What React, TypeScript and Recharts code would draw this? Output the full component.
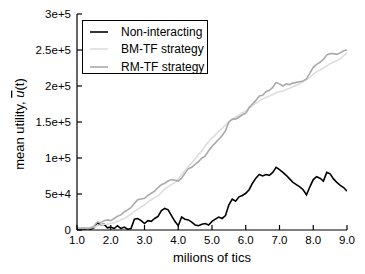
import React from 'react';
import { LineChart, Line, XAxis, YAxis, Legend } from 'recharts';

// millions of tics
const tics = [
  1.0, 1.1, 1.2, 1.3, 1.4, 1.5, 1.6, 1.7, 1.8, 1.9,
  2.0, 2.1, 2.2, 2.3, 2.4, 2.5, 2.6, 2.7, 2.8, 2.9,
  3.0, 3.1, 3.2, 3.3, 3.4, 3.5, 3.6, 3.7, 3.8, 3.9,
  4.0, 4.1, 4.2, 4.3, 4.4, 4.5, 4.6, 4.7, 4.8, 4.9,
  5.0, 5.1, 5.2, 5.3, 5.4, 5.5, 5.6, 5.7, 5.8, 5.9,
  6.0, 6.1, 6.2, 6.3, 6.4, 6.5, 6.6, 6.7, 6.8, 6.9,
  7.0, 7.1, 7.2, 7.3, 7.4, 7.5, 7.6, 7.7, 7.8, 7.9,
  8.0, 8.1, 8.2, 8.3, 8.4, 8.5, 8.6, 8.7, 8.8, 8.9,
  9.0,
];

// mean utility, in thousands
const nonInteracting = [
  1, 2, 1, 2, 1, 3, 10, 7, 8, 3,
  4, 2, 6, 2, 4, 1, 2, 15, 16, 13,
  9, 13, 12, 16, 19, 27, 30, 28, 20, 12,
  6, 18, 15, 14, 11, 7, 6, 8, 9, 7,
  12, 15, 18, 16, 20, 35, 43, 40, 46, 48,
  51, 56, 65, 72, 77, 75, 77, 76, 80, 87,
  84, 80, 76, 71, 66, 63, 60, 56, 49, 60,
  70, 74, 72, 68, 80, 78, 71, 66, 62, 59,
  54,
];

const bmTf = [
  2, 2, 2, 3, 3, 4, 6, 7, 8, 8,
  9, 10, 12, 14, 16, 19, 22, 26, 29, 32,
  35, 39, 42, 45, 47, 52, 57, 60, 63, 66,
  71, 77, 83, 88, 93, 99, 105, 110, 117, 123,
  128, 132, 137, 141, 146, 150, 153, 157, 160, 163,
  165, 169, 173, 176, 179, 182, 184, 186, 188, 191,
  192, 193, 195, 197, 199, 201, 203, 206, 209, 212,
  216, 220, 222, 225, 228, 231, 233, 235, 238, 242,
  246,
];

const rmTf = [
  3, 2, 3, 2, 3, 5, 11, 10, 13, 14,
  13, 16, 19, 21, 25, 28, 31, 37, 42, 43,
  44, 48, 51, 54, 59, 63, 65, 68, 70, 69,
  68, 72, 79, 85, 87, 91, 95, 100, 103, 110,
  116, 121, 126, 131, 138, 150, 154, 154, 157, 160,
  162, 170, 175, 180, 186, 187, 192, 194, 198, 205,
  203, 200, 203, 202, 204, 205, 206, 207, 210, 218,
  226, 230, 233, 237, 243, 245, 245, 244, 246, 249,
  250,
];

const xTicks = [1, 2, 3, 4, 5, 6, 7, 8, 9];
const yTicks = [0, 50000, 100000, 150000, 200000, 250000, 300000];
const yTickLabels = ['0', '5e+4', '1e+5', '1.5e+5', '2e+5', '2.5e+5', '3e+5'];

const series = [
  { key: 'nonInteracting', name: 'Non-interacting', color: '#000000' },
  { key: 'bmTf', name: 'BM-TF strategy', color: '#dddddd' },
  { key: 'rmTf', name: 'RM-TF strategy', color: '#aaaaaa' },
];

const data = tics.map((t, i) => ({
  t,
  nonInteracting: nonInteracting[i] * 1000,
  bmTf: bmTf[i] * 1000,
  rmTf: rmTf[i] * 1000,
}));

const FONT = '"Liberation Sans", Arial, Helvetica, sans-serif';
const tickStyle = { fontSize: 11.5, fill: '#000', fontFamily: FONT };

const LegendBox = () => (
  <div
    style={{
      boxSizing: 'border-box',
      width: 126,
      height: 54,
      border: '1.3px solid #000',
      background: '#fff',
      padding: '2px 0 0 7px',
      fontFamily: FONT,
      fontSize: 12,
      color: '#000',
    }}
  >
    {series.map((s) => (
      <div key={s.key} style={{ display: 'flex', alignItems: 'center', height: 17.5 }}>
        <svg width={31} height={4} style={{ flex: 'none' }}>
          <line x1={0} y1={2} x2={18} y2={2} stroke={s.color} strokeWidth={1.6} />
        </svg>
        <span style={{ whiteSpace: 'nowrap' }}>{s.name}</span>
      </div>
    ))}
  </div>
);

const YLabel = () => (
  <text
    x={24}
    y={124}
    transform="rotate(-90, 24, 124)"
    textAnchor="middle"
    fontSize={13}
    fontFamily={FONT}
    fill="#000"
  >
    mean utility, <tspan fontStyle="italic" textDecoration="overline">u</tspan>(t)
  </text>
);

const XLabel = ({ viewBox }: any) => (
  <text
    x={viewBox.x + viewBox.width / 2}
    y={viewBox.y + 32}
    textAnchor="middle"
    fontSize={13}
    fontFamily={FONT}
    fill="#000"
  >
    milions of tics
  </text>
);

export default function App() {
  return (
    <div style={{ position: 'absolute', left: 0, top: 0, background: '#fff' }}>
      <LineChart width={365} height={274} data={data} margin={{ top: 14, right: 18, bottom: 0, left: 0 }}>
        <XAxis
          dataKey="t"
          type="number"
          domain={[1, 9]}
          ticks={xTicks}
          allowDataOverflow
          tickFormatter={(v: number) => v.toFixed(1)}
          tick={tickStyle}
          tickSize={-5}
          tickMargin={11}
          height={44}
          stroke="#000"
          strokeWidth={1.2}
          label={<XLabel />}
        />
        <XAxis
          xAxisId="top"
          orientation="top"
          dataKey="t"
          type="number"
          domain={[1, 9]}
          ticks={xTicks}
          allowDataOverflow
          tick={false}
          tickSize={-5}
          height={0}
          stroke="#000"
          strokeWidth={1.2}
        />
        <YAxis
          type="number"
          domain={[0, 300000]}
          ticks={yTicks}
          allowDataOverflow
          tickFormatter={(v: number) => yTickLabels[yTicks.indexOf(v)]}
          tick={tickStyle}
          tickSize={-5}
          tickMargin={11}
          width={77}
          stroke="#000"
          strokeWidth={1.2}
          label={<YLabel />}
        />
        <YAxis
          yAxisId="right"
          orientation="right"
          type="number"
          domain={[0, 300000]}
          ticks={yTicks}
          allowDataOverflow
          tick={false}
          tickSize={-5}
          width={0}
          stroke="#000"
          strokeWidth={1.2}
        />
        <Legend
          layout="vertical"
          align="center"
          verticalAlign="middle"
          content={() => <LegendBox />}
          wrapperStyle={{ left: 82, top: 20, width: 126, height: 54 }}
        />
        {series.map((s) => (
          <Line
            key={s.key}
            dataKey={s.key}
            name={s.name}
            type="linear"
            stroke={s.color}
            strokeWidth={1.6}
            dot={false}
            activeDot={false}
            isAnimationActive={false}
          />
        ))}
      </LineChart>
    </div>
  );
}
